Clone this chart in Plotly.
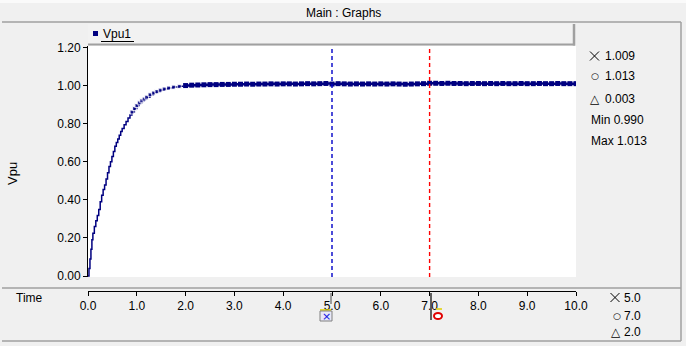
import plotly.graph_objects as go

# ---- data ----
time_rise = [0.00, 0.02, 0.04, 0.06, 0.08, 0.10, 0.13, 0.16, 0.19, 0.22, 0.25, 0.28, 0.31, 0.34,
             0.37, 0.40, 0.43, 0.46, 0.49, 0.52, 0.55, 0.58, 0.61, 0.64, 0.67, 0.70, 0.74, 0.78,
             0.82, 0.86, 0.90, 0.95, 1.00, 1.05, 1.10, 1.15, 1.20, 1.27, 1.34, 1.41, 1.48, 1.56,
             1.65, 1.75, 1.87, 2.00]
vpu_rise = [0.000, 0.040, 0.090, 0.140, 0.190, 0.225, 0.260, 0.290, 0.318, 0.350, 0.390, 0.425,
            0.455, 0.478, 0.510, 0.543, 0.575, 0.600, 0.628, 0.654, 0.682, 0.702, 0.720, 0.740,
            0.760, 0.775, 0.795, 0.812, 0.830, 0.846, 0.862, 0.880, 0.896, 0.910, 0.921, 0.930,
            0.940, 0.953, 0.962, 0.970, 0.977, 0.983, 0.988, 0.993, 0.997, 1.001]
time_plateau = [2.00, 2.125, 2.25, 2.375, 2.5, 2.625, 2.75, 2.875, 3.0, 3.125, 3.25, 3.375, 3.5,
                3.625, 3.75, 3.875, 4.0, 4.125, 4.25, 4.375, 4.5, 4.625, 4.75, 4.875, 5.0, 5.125,
                5.25, 5.375, 5.5, 5.625, 5.75, 5.875, 6.0, 6.125, 6.25, 6.375, 6.5, 6.625, 6.75,
                6.875, 7.0, 7.125, 7.25, 7.375, 7.5, 7.625, 7.75, 7.875, 8.0, 8.125, 8.25, 8.375,
                8.5, 8.625, 8.75, 8.875, 9.0, 9.125, 9.25, 9.375, 9.5, 9.625, 9.75, 9.875, 10.0]
vpu_plateau = [1.001, 1.003, 1.004, 1.005, 1.006, 1.006, 1.007, 1.007, 1.008, 1.008, 1.009, 1.008,
               1.009, 1.009, 1.010, 1.009, 1.010, 1.010, 1.009, 1.010, 1.011, 1.010, 1.011, 1.012,
               1.009, 1.011, 1.010, 1.009, 1.010, 1.009, 1.010, 1.009, 1.010, 1.009, 1.010, 1.009,
               1.008, 1.009, 1.010, 1.011, 1.013, 1.013, 1.012, 1.013, 1.012, 1.012, 1.011, 1.012,
               1.012, 1.011, 1.012, 1.011, 1.012, 1.011, 1.011, 1.012, 1.011, 1.011, 1.012, 1.011,
               1.011, 1.012, 1.011, 1.011, 1.011]
series_name = "Vpu1"
y_ticks = [0.0, 0.2, 0.4, 0.6, 0.8, 1.0, 1.2]
x_ticks = [0, 1, 2, 3, 4, 5, 6, 7, 8, 9, 10]
cursor_times = [5.0, 7.0]
cursor_value_labels = ["1.009", "1.013", "0.003"]
min_label = "Min 0.990"
max_label = "Max 1.013"
cursor_time_labels = ["5.0", "7.0", "2.0"]

# ---- layout helpers (pixel -> paper) ----
W, H = 686, 346
L, R, T, B = 88, 110, 46, 55
PW, PH = W - L - R, H - T - B


def px(x):
    return (x - L) / PW


def py(y):
    return (H - B - y) / PH


FONT = "Liberation Sans"
SYM = "DejaVu Sans"
TXT = "#000000"
NAVY = "#000080"

fig = go.Figure()
fig.add_trace(go.Scatter(
    x=time_rise, y=vpu_rise, mode="lines+markers", line=dict(color=NAVY, width=1.5, shape="hv"),
    marker=dict(symbol="square", color=NAVY, size=[4 if t >= 0.9 else 0 for t in time_rise]),
    showlegend=False, hoverinfo="skip"))
fig.add_trace(go.Scatter(
    x=time_plateau, y=vpu_plateau, mode="lines+markers", line=dict(color=NAVY, width=2.5, shape="hv"),
    marker=dict(symbol="square", color=NAVY, size=5),
    showlegend=False, hoverinfo="skip"))

shapes = []


def pline(x0, y0, x1, y1, color, width):
    shapes.append(dict(type="line", xref="paper", yref="paper", x0=px(x0), x1=px(x1), y0=py(y0), y1=py(y1),
                       line=dict(color=color, width=width)))


def cross(cx, cy, r=4.5, color=TXT):
    pline(cx - r, cy - r, cx + r, cy + r, color, 1)
    pline(cx - r, cy + r, cx + r, cy - r, color, 1)


shapes.append(dict(type="rect", xref="paper", yref="paper", x0=px(0), x1=px(W), y0=py(0), y1=py(3),
                   fillcolor="#fafafa", line=dict(width=0), layer="below"))
for y in [22, 288, 341]:
    pline(2, y, 681, y, "#a0a0a0", 1.5)
pline(681, 22, 681, 341, "#a0a0a0", 1.5)
# legend bar
shapes.append(dict(type="rect", xref="paper", yref="paper", x0=px(88), x1=px(575), y0=py(24), y1=py(45),
                   fillcolor="#f2f2f2", line=dict(width=0)))
pline(88, 44.5, 575, 44.5, "#a0a0a0", 2)
pline(574, 24, 574, 45.5, "#a0a0a0", 2.5)
shapes.append(dict(type="rect", xref="paper", yref="paper", x0=px(93), x1=px(98), y0=py(31), y1=py(36),
                   fillcolor=NAVY, line=dict(width=0)))
pline(101, 41.5, 134, 41.5, TXT, 1)
# cursors
cursor_colors = ["#0000c8", "#ff0000"]
for t, c in zip(cursor_times, cursor_colors):
    shapes.append(dict(type="line", xref="x", yref="paper", x0=t, x1=t, y0=py(277), y1=1,
                       line=dict(color=c, width=1.4, dash="4px,3px")))
# cursor icons below the axis
pline(331, 293, 331, 304, "#808080", 1.5)
pline(320, 310, 331, 310, "#e0d000", 1.5)
shapes.append(dict(type="rect", xref="paper", yref="paper", x0=px(320), x1=px(332), y0=py(311), y1=py(321),
                   fillcolor="#e8e8f8", line=dict(color="#808080", width=1)))
pline(431, 293, 431, 320, "#303030", 1.5)
pline(436, 309, 442, 309, "#e0d000", 1.5)
shapes.append(dict(type="circle", xref="paper", yref="paper", x0=px(434), x1=px(442), y0=py(313), y1=py(319),
                   fillcolor="#ffffff", line=dict(color="#e00000", width=2)))
# thin cross markers of the readouts
cross(594.5, 56)
cross(615, 297.5)

ann = []


def text(x, y, s, size=12, xanchor="left", color=TXT, family=FONT, **kw):
    ann.append(dict(xref="paper", yref="paper", x=px(x), y=py(y), text=s, showarrow=False,
                    xanchor=xanchor, yanchor="middle", font=dict(family=family, size=size, color=color), **kw))


text(343, 13, "Main : Graphs", xanchor="center")
text(101, 34, series_name)
text(12, 174, "Vpu", size=13, xanchor="center", textangle=-90)
text(29, 298, "Time", xanchor="center")
text(326, 316, "×", size=11, xanchor="center", color="#1010e0", family=SYM)
# right panel readouts
text(603, 56, cursor_value_labels[0])
text(589, 76, "○", size=9, family=SYM)
text(603, 76, cursor_value_labels[1])
text(588, 99, "△", size=12, family=SYM)
text(603, 99, cursor_value_labels[2])
text(589, 120, min_label)
text(589, 141, max_label)
# bottom right time readouts
text(622, 298, cursor_time_labels[0])
text(611, 316, "○", size=9, family=SYM)
text(622, 316, cursor_time_labels[1])
text(609, 332, "△", size=12, family=SYM)
text(622, 332, cursor_time_labels[2])

y_r0 = -1 / 190.25
y_r1 = y_r0 + 231 / 190.25

fig.update_layout(
    width=W, height=H, margin=dict(l=L, r=R, t=T, b=B, pad=0),
    paper_bgcolor="#f0f0f0", plot_bgcolor="#ffffff",
    font=dict(family=FONT, size=12, color=TXT),
    shapes=shapes, annotations=ann, showlegend=False,
    xaxis=dict(range=[0, 10], domain=[0, 1], anchor="free", position=0, showgrid=False, zeroline=False,
               showline=True, linecolor="#000000", linewidth=1, ticks="outside", ticklen=4,
               tickcolor="#000000", tickvals=x_ticks, ticktext=[f"{v:.1f}" for v in x_ticks],
               tickfont=dict(family=FONT, size=12, color=TXT)),
    yaxis=dict(range=[y_r0, y_r1], domain=[py(277), 1], showgrid=False, zeroline=False,
               showline=True, linecolor="#000000", linewidth=1, ticks="outside", ticklen=4,
               tickcolor="#000000", tickvals=y_ticks, ticktext=[f"{v:.2f}" for v in y_ticks],
               tickfont=dict(family=FONT, size=12, color=TXT)),
)

fig.write_html("out.html", config={"displayModeBar": False},
               post_script="document.body.style.margin='0';document.body.style.overflow='hidden';")
